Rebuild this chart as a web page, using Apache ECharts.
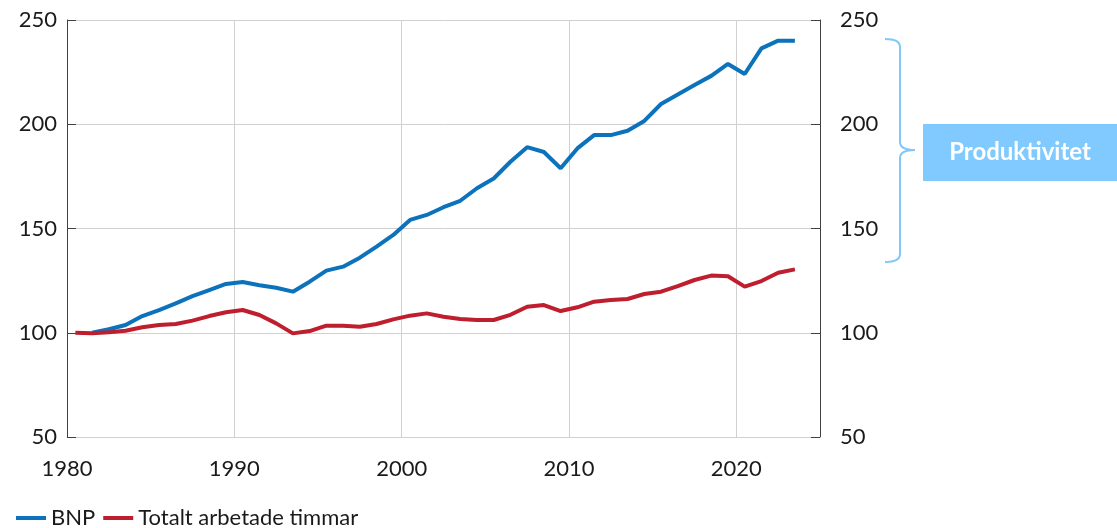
<!DOCTYPE html>
<html>
<head>
    <meta charset="utf-8">
    <title>BNP och arbetade timmar</title>
    <script src="https://cdn.jsdelivr.net/npm/echarts@6/dist/echarts.min.js"></script>
    <style>
        html, body { margin: 0; padding: 0; background: #fff; }
        #main { width: 1117px; height: 528px; }
    </style>
</head>
<body>
<div id="main"></div>
<script type="text/javascript">
    // år 1980-2023, index 1980 = 100
    var years = [];
    for (var y = 1980; y <= 2023; y++) years.push(y);

    var bnp = [null, 100, 101.7, 103.7, 108, 110.9, 114.1, 117.6, 120.5, 123.4,
        124.3, 122.8, 121.6, 119.7, 124.5, 129.8, 131.7, 136, 141.3, 146.9,
        154.1, 156.5, 160.2, 163.3, 169.3, 174, 182, 189, 186.7, 178.9,
        188.4, 194.8, 194.8, 196.9, 201.6, 209.7, 214.3, 218.8, 223.2, 228.9,
        224.1, 236.4, 240.1, 240.1];

    var timmar = [100, 99.8, 100.2, 101, 102.6, 103.7, 104.2, 105.8, 108, 109.8,
        110.9, 108.5, 104.5, 99.7, 100.8, 103.4, 103.4, 102.9, 104.2, 106.4,
        108.2, 109.3, 107.7, 106.6, 106.1, 106.1, 108.6, 112.5, 113.3, 110.4,
        112.2, 114.9, 115.7, 116.2, 118.6, 119.7, 122.4, 125.3, 127.4, 127.1,
        122.1, 124.8, 128.8, 130.4];

    var yTicks = [50, 100, 150, 200, 250];
    var xTicks = [1980, 1990, 2000, 2010, 2020];

    // punkterna ligger mitt i året
    function toPoints(arr) {
        var out = [];
        for (var i = 0; i < arr.length; i++) {
            if (arr[i] != null) out.push([years[i] + 0.5, arr[i]]);
        }
        return out;
    }

    var font = 'Lato';
    var fs = 22;
    var txt = '#1a1a1a';
    var gridCol = '#d0d0d0';
    var axisCol = '#404040';
    var brace = { stroke: '#7fc8f8', lineWidth: 2, fill: null };

    var myChart = echarts.init(document.getElementById('main'));

    function yAxis(pos, margin, grid) {
        return {
            type: 'value',
            position: pos,
            min: yTicks[0],
            max: yTicks[yTicks.length - 1],
            interval: 50,
            axisLine: { show: true, lineStyle: { color: axisCol, width: 1 } },
            axisTick: { show: true, inside: true, length: 9, lineStyle: { color: axisCol } },
            axisLabel: { color: txt, fontFamily: font, fontSize: fs, margin: margin },
            splitLine: { show: grid, lineStyle: { color: gridCol, width: 1 } }
        };
    }

    // klammern till höger
    function curve(x1, y1, cx, cy, x2, y2) {
        return { type: 'bezierCurve', shape: { x1: x1, y1: y1, cpx1: cx, cpy1: cy, x2: x2, y2: y2 }, style: brace };
    }
    function seg(x1, y1, x2, y2) {
        return { type: 'line', shape: { x1: x1, y1: y1, x2: x2, y2: y2 }, style: brace };
    }

    myChart.setOption({
        animation: false,
        textStyle: { fontFamily: font },
        grid: { left: 67, right: 297, top: 20, bottom: 91 },
        legend: {
            left: 11,
            top: 502,
            icon: 'rect',
            itemWidth: 30,
            itemHeight: 4,
            itemGap: 8,
            textStyle: { color: txt, fontFamily: font, fontSize: fs },
            data: ['BNP', 'Totalt arbetade timmar']
        },
        xAxis: {
            type: 'value',
            min: xTicks[0],
            max: 2025,
            interval: 10,
            axisLine: { show: true, lineStyle: { color: gridCol, width: 1 } },
            axisTick: { show: false },
            axisLabel: {
                color: txt, fontFamily: font, fontSize: fs, margin: 21,
                showMaxLabel: false,
                formatter: function (v) { return xTicks.indexOf(v) >= 0 ? String(v) : ''; }
            },
            splitLine: { show: true, lineStyle: { color: gridCol, width: 1 } }
        },
        yAxis: [yAxis('left', 10, true), yAxis('right', 20, false)],
        series: [
            {
                name: 'BNP',
                type: 'line',
                data: toPoints(bnp),
                showSymbol: false,
                lineStyle: { color: '#0b72bb', width: 4 },
                itemStyle: { color: '#0b72bb' }
            },
            {
                name: 'Totalt arbetade timmar',
                type: 'line',
                data: toPoints(timmar),
                showSymbol: false,
                lineStyle: { color: '#be1e2d', width: 4 },
                itemStyle: { color: '#be1e2d' }
            }
        ],
        graphic: [
            curve(885, 39, 900, 39, 900, 47),
            seg(900, 47, 900, 142),
            curve(900, 142, 900, 150, 915, 150),
            curve(915, 150, 900, 150, 900, 158),
            seg(900, 158, 900, 254),
            curve(900, 254, 900, 262, 885, 262),
            {
                type: 'rect',
                shape: { x: 923, y: 124, width: 194, height: 57 },
                style: { fill: '#80caff' }
            },
            {
                type: 'text',
                x: 1020,
                y: 152,
                style: {
                    text: 'Produktivitet',
                    fill: '#ffffff',
                    font: 'bold 24px Lato',
                    align: 'center',
                    verticalAlign: 'middle'
                }
            }
        ]
    });
</script>
</body>
</html>
